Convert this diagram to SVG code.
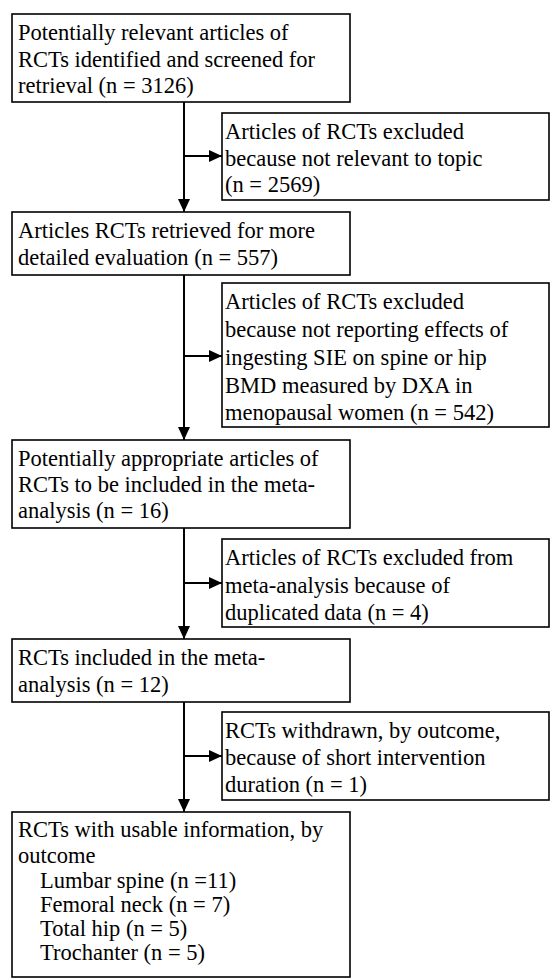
<svg xmlns="http://www.w3.org/2000/svg" width="551" height="979" viewBox="0 0 551 979">
<style>
.box{fill:#fff;stroke:#000;stroke-width:1.6}
.t{font-family:"Liberation Serif","Times New Roman",serif;font-size:22.5px;fill:#000}
.c{stroke:#000;stroke-width:2;fill:none}
</style>
<defs>
<marker id="ah" markerUnits="userSpaceOnUse" markerWidth="14" markerHeight="12" refX="13" refY="6" orient="auto">
<path d="M0,0 L13,6 L0,12 Z" fill="#000"/>
</marker>
</defs>
<rect width="551" height="979" fill="#fff"/>
<g id="connectors">
<line class="c" x1="184" y1="102" x2="184" y2="212" marker-end="url(#ah)"/>
<line class="c" x1="184" y1="156" x2="222" y2="156" marker-end="url(#ah)"/>
<line class="c" x1="184" y1="275" x2="184" y2="440" marker-end="url(#ah)"/>
<line class="c" x1="184" y1="356" x2="222" y2="356" marker-end="url(#ah)"/>
<line class="c" x1="184" y1="528" x2="184" y2="639" marker-end="url(#ah)"/>
<line class="c" x1="184" y1="583" x2="222" y2="583" marker-end="url(#ah)"/>
<line class="c" x1="184" y1="702" x2="184" y2="812" marker-end="url(#ah)"/>
<line class="c" x1="184" y1="756" x2="222" y2="756" marker-end="url(#ah)"/>
</g>
<g id="n1">
<rect class="box" x="12" y="14" width="338" height="88"/>
<text class="t" x="18" y="40">Potentially relevant articles of</text>
<text class="t" x="18" y="67">RCTs identified and screened for</text>
<text class="t" x="18" y="93">retrieval (n = 3126)</text>
</g>
<g id="n2">
<rect class="box" x="222" y="113" width="327" height="87"/>
<text class="t" x="225" y="139">Articles of RCTs excluded</text>
<text class="t" x="225" y="166">because not relevant to topic</text>
<text class="t" x="225" y="192">(n = 2569)</text>
</g>
<g id="n3">
<rect class="box" x="12" y="212" width="338" height="63"/>
<text class="t" x="18" y="238">Articles RCTs retrieved for more</text>
<text class="t" x="18" y="265">detailed evaluation (n = 557)</text>
</g>
<g id="n4">
<rect class="box" x="222" y="283" width="327" height="144"/>
<text class="t" x="225" y="309">Articles of RCTs excluded</text>
<text class="t" x="225" y="337">because not reporting effects of</text>
<text class="t" x="225" y="365">ingesting SIE on spine or hip</text>
<text class="t" x="225" y="393">BMD measured by DXA in</text>
<text class="t" x="225" y="420">menopausal women (n = 542)</text>
</g>
<g id="n5">
<rect class="box" x="12" y="440" width="338" height="88"/>
<text class="t" x="18" y="466">Potentially appropriate articles of</text>
<text class="t" x="18" y="492">RCTs to be included in the meta-</text>
<text class="t" x="18" y="518">analysis (n = 16)</text>
</g>
<g id="n6">
<rect class="box" x="222" y="539" width="327" height="88"/>
<text class="t" x="225" y="565">Articles of RCTs excluded from</text>
<text class="t" x="225" y="593">meta-analysis because of</text>
<text class="t" x="225" y="620">duplicated data (n = 4)</text>
</g>
<g id="n7">
<rect class="box" x="12" y="639" width="338" height="63"/>
<text class="t" x="18" y="665">RCTs included in the meta-</text>
<text class="t" x="18" y="692">analysis (n = 12)</text>
</g>
<g id="n8">
<rect class="box" x="222" y="712" width="327" height="88"/>
<text class="t" x="225" y="738">RCTs withdrawn, by outcome,</text>
<text class="t" x="225" y="765">because of short intervention</text>
<text class="t" x="225" y="792">duration (n = 1)</text>
</g>
<g id="n9">
<rect class="box" x="12" y="812" width="338" height="165"/>
<text class="t" x="18" y="837">RCTs with usable information, by</text>
<text class="t" x="18" y="863">outcome</text>
<text class="t" x="40" y="888">Lumbar spine (n =11)</text>
<text class="t" x="40" y="912">Femoral neck (n = 7)</text>
<text class="t" x="40" y="936">Total hip (n = 5)</text>
<text class="t" x="40" y="960">Trochanter (n = 5)</text>
</g>
</svg>
